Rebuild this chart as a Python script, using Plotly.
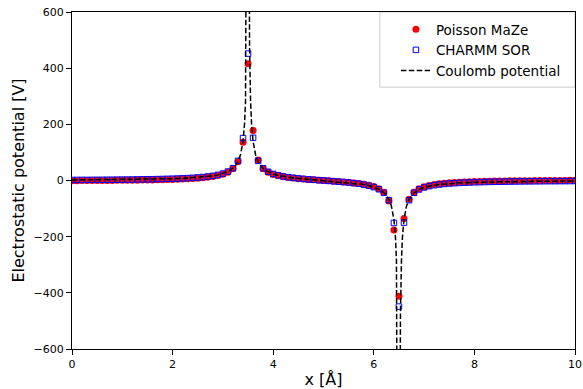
import plotly.graph_objects as go

# sample grid (Å)
x_grid = [0.0, 0.1, 0.2, 0.3, 0.4, 0.5, 0.6, 0.7, 0.8, 0.9,
          1.0, 1.1, 1.2, 1.3, 1.4, 1.5, 1.6, 1.7, 1.8, 1.9,
          2.0, 2.1, 2.2, 2.3, 2.4, 2.5, 2.6, 2.7, 2.8, 2.9,
          3.0, 3.1, 3.2, 3.3, 3.4, 3.5, 3.6, 3.7, 3.8, 3.9,
          4.0, 4.1, 4.2, 4.3, 4.4, 4.5, 4.6, 4.7, 4.8, 4.9,
          5.0, 5.1, 5.2, 5.3, 5.4, 5.5, 5.6, 5.7, 5.8, 5.9,
          6.0, 6.1, 6.2, 6.3, 6.4, 6.5, 6.6, 6.7, 6.8, 6.9,
          7.0, 7.1, 7.2, 7.3, 7.4, 7.5, 7.6, 7.7, 7.8, 7.9,
          8.0, 8.1, 8.2, 8.3, 8.4, 8.5, 8.6, 8.7, 8.8, 8.9,
          9.0, 9.1, 9.2, 9.3, 9.4, 9.5, 9.6, 9.7, 9.8, 9.9, 10.0]

# Poisson MaZe (V)
maze_v = [-0.6, -0.5, -0.4, -0.3, -0.2, -0.1, 0.0, 0.2, 0.3, 0.5,
          0.6, 0.8, 1.0, 1.3, 1.5, 1.8, 2.1, 2.5, 2.9, 3.4,
          3.9, 4.5, 5.2, 6.1, 7.1, 8.3, 9.8, 11.8, 14.2, 17.6,
          22.3, 29.5, 41.5, 67.0, 136.0, 416.0, 178.0, 73.0, 41.5, 29.0,
          21.8, 16.9, 13.3, 10.6, 8.5, 6.6, 5.0, 3.6, 2.3, 1.1,
          0.0, -1.1, -2.3, -3.6, -5.0, -6.6, -8.5, -10.6, -13.3, -16.9,
          -21.8, -29.0, -41.5, -73.0, -176.0, -412.0, -135.0, -67.0, -41.5, -29.5,
          -22.3, -17.6, -14.2, -11.8, -9.8, -8.3, -7.1, -6.1, -5.2, -4.5,
          -3.9, -3.4, -2.9, -2.5, -2.1, -1.8, -1.5, -1.3, -1.0, -0.8,
          -0.6, -0.5, -0.3, -0.2, 0.0, 0.1, 0.2, 0.3, 0.4, 0.5, 0.6]

# CHARMM SOR (V)
charmm_v = [1.9, 2.0, 2.1, 2.2, 2.3, 2.4, 2.5, 2.7, 2.8, 3.0,
            3.1, 3.3, 3.5, 3.8, 4.0, 4.3, 4.6, 5.0, 5.4, 5.9,
            6.4, 7.0, 7.7, 8.6, 9.6, 10.8, 12.3, 14.2, 16.7, 20.0,
            24.7, 31.8, 43.6, 70.0, 151.0, 452.0, 152.0, 70.0, 43.5, 31.0,
            23.4, 18.3, 14.5, 11.6, 9.3, 7.3, 5.6, 4.1, 2.7, 1.3,
            0.0, -1.3, -2.7, -4.1, -5.6, -7.3, -9.3, -11.6, -14.5, -18.3,
            -23.4, -31.0, -43.5, -70.0, -151.0, -449.0, -150.0, -70.0, -43.6, -31.8,
            -24.7, -20.0, -16.7, -14.2, -12.3, -10.8, -9.6, -8.6, -7.7, -7.0,
            -6.4, -5.9, -5.4, -5.0, -4.6, -4.3, -4.0, -3.8, -3.5, -3.3,
            -3.1, -3.0, -2.8, -2.7, -2.5, -2.4, -2.3, -2.2, -2.1, -2.0, -1.9]

# Coulomb potential curve (Å, V)
coulomb_x = [0.0, 0.25, 0.5, 0.75, 1.0, 1.25, 1.5, 1.75, 2.0, 2.25,
             2.5, 2.6, 2.7, 2.8, 2.9, 3.0, 3.05, 3.1, 3.15, 3.2,
             3.25, 3.3, 3.35, 3.4, 3.43, 3.45, 3.47, 3.48, 3.49, 3.495,
             3.505, 3.51, 3.52, 3.53, 3.55, 3.57, 3.6, 3.65, 3.7, 3.75,
             3.8, 3.85, 3.9, 3.95, 4.0, 4.1, 4.2, 4.3, 4.4, 4.5,
             4.75, 5.0, 5.25, 5.5, 5.6, 5.7, 5.8, 5.9, 6.0, 6.05,
             6.1, 6.15, 6.2, 6.25, 6.3, 6.35, 6.4, 6.43, 6.45, 6.47,
             6.48, 6.49, 6.495, 6.505, 6.51, 6.52, 6.53, 6.55, 6.57, 6.6,
             6.65, 6.7, 6.75, 6.8, 6.85, 6.9, 6.95, 7.0, 7.1, 7.2,
             7.3, 7.4, 7.5, 7.75, 8.0, 8.25, 8.5, 8.75, 9.0, 9.25,
             9.5, 9.75, 10.0]
coulomb_v = [1.90, 2.13, 2.40, 2.73, 3.14, 3.66, 4.32, 5.20, 6.40, 8.13,
             10.80, 12.31, 14.21, 16.68, 20.00, 24.69, 27.83, 31.76, 36.84, 43.64,
             53.17, 67.50, 91.43, 139.4, 201.0, 283.3, 475.3, 715.2, 1435.0, 2875.0,
             2875.0, 1435.0, 715.0, 475.0, 283.0, 200.8, 139.0, 91.0, 66.9, 52.4,
             42.7, 35.7, 30.5, 26.35, 23.0, 18.0, 14.3, 11.45, 9.14, 7.2,
             3.29, 0.0, -3.29, -7.2, -9.14, -11.45, -14.3, -18.0, -23.0, -26.35,
             -30.5, -35.7, -42.7, -52.4, -66.9, -91.0, -139.0, -200.8, -283.0, -475.0,
             -715.0, -1435.0, -2875.0, -2875.0, -1435.0, -715.2, -475.3, -283.3, -201.0, -139.4,
             -91.43, -67.5, -53.17, -43.64, -36.84, -31.76, -27.83, -24.69, -20.0, -16.68,
             -14.21, -12.31, -10.8, -8.13, -6.4, -5.2, -4.32, -3.66, -3.14, -2.73,
             -2.4, -2.13, -1.9]

x_ticks = [0, 2, 4, 6, 8, 10]
y_ticks = [-600, -400, -200, 0, 200, 400, 600]

FONT = "DejaVu Sans"

fig = go.Figure()
fig.add_trace(go.Scatter(
    x=x_grid, y=maze_v, mode="markers", name="Poisson MaZe",
    marker=dict(symbol="circle", size=7, color="#ff0000", line=dict(width=0)),
))
fig.add_trace(go.Scatter(
    x=x_grid, y=charmm_v, mode="markers", name="CHARMM SOR",
    marker=dict(symbol="square-open", size=5.5, color="#0000ff",
                line=dict(width=1, color="#0000ff")),
))
fig.add_trace(go.Scatter(
    x=coulomb_x, y=coulomb_v, mode="lines", name="Coulomb potential",
    line=dict(color="black", width=1.5, dash="5.5px,2.4px"),
))

axis_common = dict(
    showline=True, linecolor="black", linewidth=1, mirror=True,
    ticks="outside", ticklen=5, tickwidth=1, tickcolor="black",
    showgrid=False, zeroline=False, automargin=False,
    tickfont=dict(family=FONT, size=11, color="black"),
)

fig.update_layout(
    template="none",
    width=583, height=389,
    margin=dict(l=72, r=8, t=12, b=40, autoexpand=False),
    paper_bgcolor="white", plot_bgcolor="white",
    font=dict(family=FONT, color="black"),
    showlegend=True,
    legend=dict(
        x=0.644, y=0.994, xanchor="left", yanchor="top",
        bgcolor="rgba(0,0,0,0)", borderwidth=0,
        font=dict(family=FONT, size=13.5, color="black"),
        tracegroupgap=0,
    ),
    xaxis=dict(range=[0, 10], tickvals=x_ticks,
               title=dict(text="x [Å]", font=dict(family=FONT, size=16), standoff=8),
               **axis_common),
    yaxis=dict(range=[-600, 600], tickvals=y_ticks,
               title=dict(text="Electrostatic potential [V]", font=dict(family=FONT, size=16), standoff=4),
               **axis_common),
    shapes=[dict(type="rect", xref="paper", yref="paper",
                 x0=0.612, x1=1.0, y0=0.777, y1=1.0,
                 line=dict(color="#cccccc", width=1), layer="below")],
)

fig.write_html("out.html")
